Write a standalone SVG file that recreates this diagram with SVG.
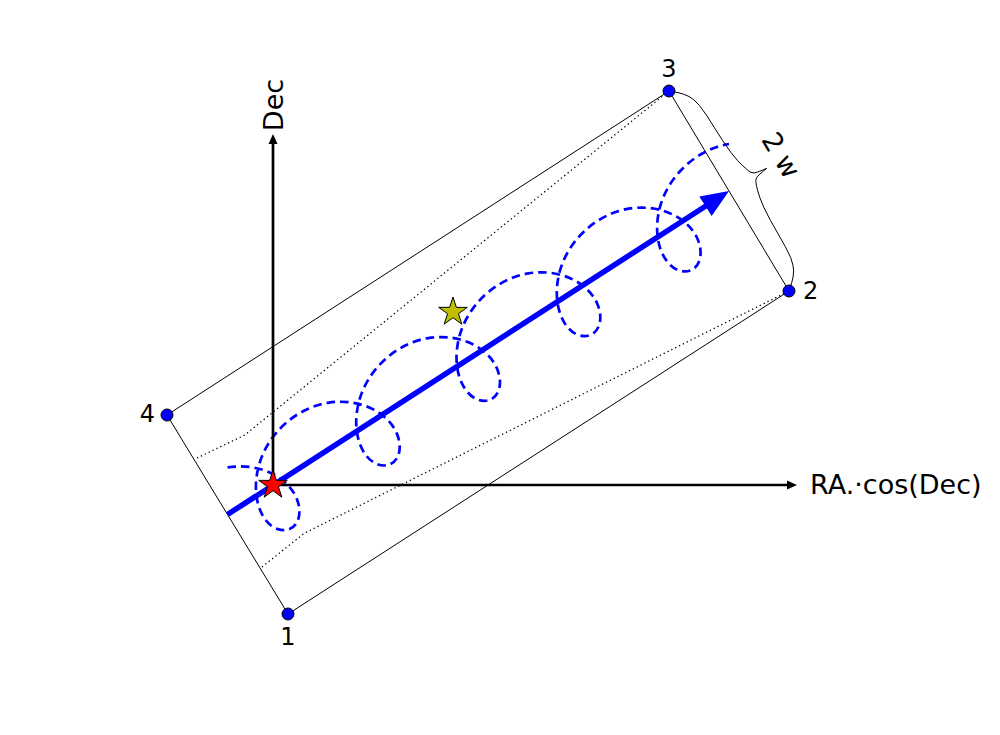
<svg xmlns="http://www.w3.org/2000/svg" xmlns:xlink="http://www.w3.org/1999/xlink" width="1000" height="735" viewBox="0 0 1000 735">
<style>
  text { font-family: "DejaVu Sans", "Liberation Sans", sans-serif; fill: #000; }
  .num { font-size: 24px; }
  .lab { font-size: 27px; }
  .edge { fill: none; stroke: #000; stroke-width: 1; }
  .dot { fill: none; stroke: #000; stroke-width: 1.3; stroke-dasharray: 1.3 3; }
  .loop { fill: none; stroke: #0000ff; stroke-width: 2.7; stroke-dasharray: 8.5 5; }
  .axis { fill: none; stroke: #000; stroke-width: 2.7; }
  .pt { fill: #0000ff; stroke: #000; stroke-width: 1; }
  .star { stroke: #000; stroke-width: 1; stroke-linejoin: miter; }
</style>
<defs>
  <polygon id="star" points="0,-15 3.37,-4.64 14.27,-4.64 5.45,1.77 8.82,12.14 0,5.73 -8.82,12.14 -5.45,1.77 -14.27,-4.64 -3.37,-4.64"/>
</defs>
<rect width="1000" height="735" fill="#fff"/>
<g id="connectors">
  <polygon id="box" class="edge" points="288,614 789,291 669,91 167,415"/>
  <polyline id="dotted-upper" class="dot" points="197,458 244.5,435.2 669,91"/>
  <polyline id="dotted-lower" class="dot" points="262,567 304,533.4 789,291"/>
  <path id="parallax-path" class="loop" d="M227.5,467.5
    C260.16,462.11 288.22,477.76 296.58,498.33
    C304.94,518.90 293.59,534.54 277.65,529.15
    C261.71,523.76 250.37,497.33 258.73,465.98
    C267.09,434.63 295.14,408.19 327.8,402.8
    C360.46,397.41 388.52,413.06 396.88,433.63
    C405.24,454.20 393.89,469.84 377.95,464.45
    C362.01,459.06 350.67,432.63 359.03,401.28
    C367.39,369.93 395.44,343.49 428.1,338.1
    C460.76,332.71 488.82,348.36 497.18,368.93
    C505.54,389.50 494.19,405.14 478.25,399.75
    C462.31,394.36 450.97,367.93 459.33,336.58
    C467.69,305.23 495.74,278.79 528.4,273.4
    C561.06,268.01 589.12,283.66 597.48,304.23
    C605.84,324.80 594.49,340.44 578.55,335.05
    C562.61,329.66 551.27,303.23 559.63,271.88
    C567.99,240.53 596.04,214.09 628.7,208.7
    C661.36,203.31 689.42,218.96 697.78,239.53
    C706.14,260.10 694.79,275.74 678.85,270.35
    C662.91,264.96 651.57,238.53 659.93,207.18
    C668.29,175.83 696.34,149.39 729,144"/>
  <g id="motion-arrow">
    <line x1="227.5" y1="514.5" x2="707" y2="205.2" stroke="#0000ff" stroke-width="5.5"/>
    <polygon points="729,191 699.3,196.5 711.7,215.9" fill="#0000ff"/>
  </g>
  <g id="axes">
    <line class="axis" x1="273" y1="485" x2="273" y2="143"/>
    <polygon points="273,134 268.5,144 277.5,144" fill="#000"/>
    <line class="axis" x1="273" y1="485" x2="787" y2="485"/>
    <polygon points="797,485 787,480.5 787,489.5" fill="#000"/>
  </g>
  <polyline id="brace" class="edge" points="669,91 673.6,91.7 678,92.6 683.4,94.1 689,96.5 693.6,99.6 699.4,105.4 706.5,115.2 714.5,127.8 722.6,140.5 731.2,152.8 737.6,160.6 742.7,165.7 746.6,169.2 749.1,171.2 751,172.4 754.1,172.9 757.4,172.1 759.8,171.2 762.7,170.1 766.7,168.3 763.4,171.1 760.9,173.2 759,174.9 756.8,177.4 755.8,180.3 756,182.6 756.5,185.7 757.7,190.8 759.9,197.7 763.7,207.1 770.5,220.5 777.9,233.5 785.3,246.6 790.6,257.4 793,265.3 793.6,270.8 793.1,276.9 791.8,282.3 790.5,286.6 789,291"/>
</g>
<g id="corner-1"><circle class="pt" cx="288" cy="614" r="6"/><text class="num" x="288" y="645" text-anchor="middle">1</text></g>
<g id="corner-2"><circle class="pt" cx="789" cy="291" r="6"/><text class="num" x="803" y="299">2</text></g>
<g id="corner-3"><circle class="pt" cx="669" cy="91" r="6"/><text class="num" x="669" y="77" text-anchor="middle">3</text></g>
<g id="corner-4"><circle class="pt" cx="167" cy="415" r="6"/><text class="num" x="155" y="422" text-anchor="end">4</text></g>
<g id="star-red"><use xlink:href="#star" href="#star" class="star" x="273" y="485" fill="#ff0000"/></g>
<g id="star-yellow"><use xlink:href="#star" href="#star" class="star" x="453" y="312" fill="#bfbf00"/></g>
<g id="label-dec"><text class="lab" transform="translate(283,105) rotate(-90)" text-anchor="middle">Dec</text></g>
<g id="label-ra"><text class="lab" x="810" y="494">RA.·cos(Dec)</text></g>
<g id="label-2w"><text class="lab" transform="translate(773,160) rotate(59)" text-anchor="middle">2 w</text></g>
</svg>
